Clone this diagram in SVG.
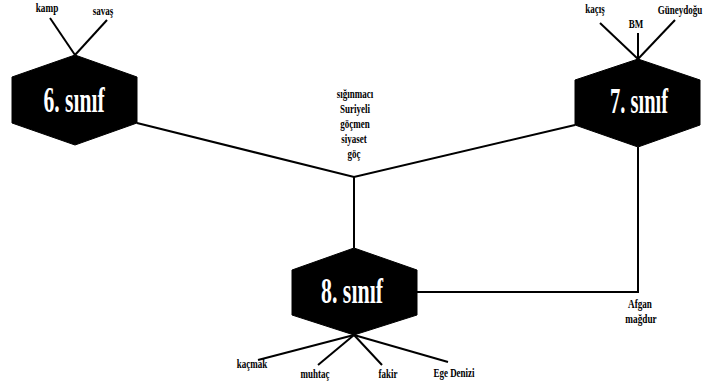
<svg xmlns="http://www.w3.org/2000/svg" width="705" height="390" viewBox="0 0 705 390">
<style>
.hex{fill:#000;stroke:#000;stroke-width:1}
.ht{font-family:"Liberation Serif","Times New Roman",serif;font-weight:bold;font-size:36px;fill:#fff;text-anchor:middle}
.lb{font-family:"Liberation Serif","Times New Roman",serif;font-weight:bold;font-size:12.5px;fill:#000;text-anchor:middle}
.ln{stroke:#000;stroke-width:2;fill:none}
</style>
<rect width="705" height="390" fill="#fff"/>
<g id="connectors">
<line class="ln" x1="50" y1="18" x2="75" y2="55"/>
<line class="ln" x1="107" y1="20" x2="75" y2="55"/>
<line class="ln" x1="600" y1="23" x2="638" y2="59"/>
<line class="ln" x1="638" y1="33" x2="638" y2="59"/>
<line class="ln" x1="675" y1="20" x2="638" y2="59"/>
<polyline class="ln" points="137,123 354,177 575,125"/>
<line class="ln" x1="354" y1="177" x2="354" y2="248"/>
<polyline class="ln" points="638,147 638,292 417,292"/>
<line class="ln" x1="354" y1="335" x2="258" y2="360"/>
<line class="ln" x1="354" y1="335" x2="318" y2="365"/>
<line class="ln" x1="354" y1="335" x2="382" y2="365"/>
<line class="ln" x1="354" y1="335" x2="448" y2="362"/>
</g>
<g id="node6">
<polygon class="hex" points="75,55 137,77 137,123 75,145 12,123 12,77"/>
<text class="ht" transform="translate(74,112) scale(0.6,1)">6. sınıf</text>
</g>
<g id="node7">
<polygon class="hex" points="638,59 700,80 700,125 638,147 575,125 575,80"/>
<text class="ht" transform="translate(639,113) scale(0.57,1)">7. sınıf</text>
</g>
<g id="node8">
<polygon class="hex" points="354,248 417,270 417,315 354,335 292,315 292,270"/>
<text class="ht" transform="translate(352,303) scale(0.61,1)">8. sınıf</text>
</g>
<g id="labels">
<text class="lb" transform="translate(47,12) scale(0.74,1)">kamp</text>
<text class="lb" transform="translate(103,15) scale(0.72,1)">savaş</text>
<text class="lb" transform="translate(595,13) scale(0.72,1)">kaçış</text>
<text class="lb" transform="translate(636,28) scale(0.72,1)">BM</text>
<text class="lb" transform="translate(680,14) scale(0.72,1)">Güneydoğu</text>
<text class="lb" transform="translate(355,98) scale(0.72,1)">sığınmacı</text>
<text class="lb" transform="translate(355,113) scale(0.72,1)">Suriyeli</text>
<text class="lb" transform="translate(355,128) scale(0.72,1)">göçmen</text>
<text class="lb" transform="translate(354,143) scale(0.72,1)">siyaset</text>
<text class="lb" transform="translate(354,158) scale(0.72,1)">göç</text>
<text class="lb" transform="translate(640,308) scale(0.73,1)">Afgan</text>
<text class="lb" transform="translate(641,323) scale(0.74,1)">mağdur</text>
<text class="lb" transform="translate(252,368) scale(0.72,1)">kaçmak</text>
<text class="lb" transform="translate(315,378) scale(0.72,1)">muhtaç</text>
<text class="lb" transform="translate(388,378) scale(0.72,1)">fakir</text>
<text class="lb" transform="translate(454,377) scale(0.72,1)">Ege Denizi</text>
</g>
</svg>
